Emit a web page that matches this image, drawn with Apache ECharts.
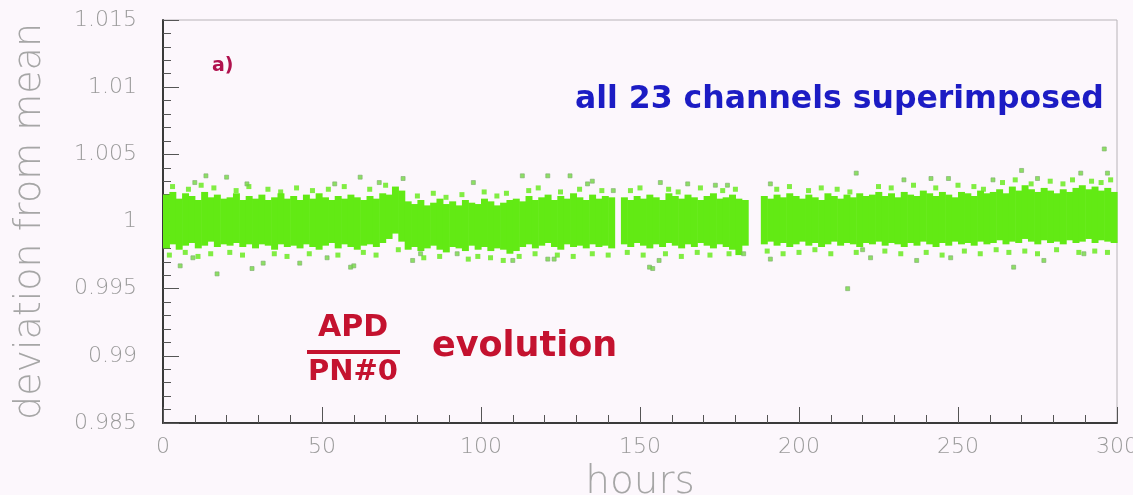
<!DOCTYPE html>
<html>
<head>
<meta charset="utf-8">
<script src="https://cdn.jsdelivr.net/npm/echarts@6/dist/echarts.min.js"></script>
<style>
  html, body { margin: 0; padding: 0; background: #fcf7fc; }
  #chart { width: 1133px; height: 495px; }
</style>
</head>
<body>
<div id="chart"></div>
<script>
// Ratio APD / PN#0 relative to its mean, 23 channels superimposed.
// The dense core of the cloud is given per 2-hour bin (lower / upper edge),
// the sparse points around it are listed individually.
const binHours = 2;

const bandHigh = [
  1.0020,1.0022,1.0017,1.0021,1.0019,1.0016,1.0022,1.0018,1.0020,1.0017,
  1.0018,1.0021,1.0016,1.0019,1.0017,1.0020,1.0016,1.0018,1.0021,1.0017,
  1.0019,1.0016,1.0020,1.0017,1.0021,1.0018,1.0016,1.0019,1.0017,1.0020,1.0018,1.0016,1.0019,1.0017,1.0021,1.0020,
  1.0026,1.0023,
  1.0015,1.0013,1.0016,1.0012,1.0014,1.0017,1.0013,1.0015,1.0012,1.0016,1.0014,1.0013,1.0017,1.0015,1.0012,1.0014,1.0016,
  1.0017,1.0015,1.0019,1.0016,1.0018,1.0020,1.0016,1.0019,1.0017,1.0021,1.0018,1.0016,1.0020,1.0017,1.0019,1.0018,
  null,
  1.0018,1.0016,1.0019,1.0017,1.0020,1.0018,1.0016,1.0021,1.0019,1.0017,1.0020,1.0018,1.0016,1.0019,1.0021,1.0017,1.0018,1.0020,1.0017,1.0016,
  null,null,
  1.0019,1.0017,1.0020,1.0018,1.0021,1.0019,1.0017,1.0020,1.0018,1.0016,1.0021,1.0019,1.0017,1.0020,1.0018,1.0021,1.0019,
  1.0020,1.0022,1.0019,1.0021,1.0018,1.0022,1.0020,1.0019,1.0023,1.0021,1.0019,1.0022,1.0020,1.0018,1.0022,1.0021,1.0019,1.0023,1.0021,
  1.0022,1.0024,1.0021,1.0026,1.0023,1.0027,1.0024,1.0022,1.0025,1.0023,1.0021,1.0024,1.0022,1.0025,1.0027,1.0024,1.0026,1.0023,1.0025,1.0022
];

const bandLow = [
  0.9980,0.9983,0.9979,0.9982,0.9984,0.9980,0.9982,0.9985,0.9981,0.9983,
  0.9982,0.9984,0.9981,0.9983,0.9980,0.9983,0.9982,0.9979,0.9983,0.9981,
  0.9982,0.9980,0.9983,0.9981,0.9979,0.9982,0.9984,0.9980,0.9983,0.9981,0.9979,0.9982,0.9983,0.9981,0.9984,0.9987,
  0.9991,0.9985,
  0.9979,0.9981,0.9978,0.9980,0.9982,0.9979,0.9977,0.9981,0.9980,0.9978,0.9982,0.9979,0.9981,0.9978,0.9980,0.9979,0.9976,
  0.9978,0.9981,0.9983,0.9980,0.9982,0.9984,0.9981,0.9979,0.9983,0.9981,0.9982,0.9980,0.9983,0.9981,0.9982,0.9980,
  null,
  0.9983,0.9981,0.9984,0.9982,0.9980,0.9983,0.9981,0.9984,0.9982,0.9980,0.9983,0.9981,0.9984,0.9982,0.9980,0.9983,0.9981,0.9979,0.9975,0.9982,
  null,null,
  0.9983,0.9985,0.9982,0.9984,0.9981,0.9983,0.9985,0.9982,0.9984,0.9981,0.9983,0.9985,0.9982,0.9984,0.9983,0.9981,0.9984,
  0.9983,0.9985,0.9982,0.9984,0.9983,0.9981,0.9984,0.9982,0.9985,0.9983,0.9981,0.9984,0.9982,0.9985,0.9983,0.9984,0.9982,0.9985,0.9983,
  0.9984,0.9986,0.9983,0.9985,0.9984,0.9987,0.9985,0.9983,0.9986,0.9984,0.9985,0.9983,0.9986,0.9984,0.9985,0.9987,0.9984,0.9986,0.9985,0.9984
];

// Points just outside the dense core: [hour, ratio]
const edgePoints = [
  [3,1.0026],[8,1.0024],[12,1.0027],[16,1.0025],[23,1.0023],[27,1.0026],[33,1.0024],[37,1.0022],[42,1.0025],[47,1.0023],
  [52,1.0024],[57,1.0026],[65,1.0024],[70,1.0027],[80,1.0019],[85,1.0021],[89,1.0018],[94,1.0020],[101,1.0022],[105,1.0019],
  [108,1.0021],[115,1.0023],[118,1.0025],[125,1.0022],[131,1.0024],[138,1.0023],[147,1.0023],[150,1.0025],[159,1.0024],[162,1.0022],
  [169,1.0025],[176,1.0023],[180,1.0024],[193,1.0024],[197,1.0026],[203,1.0023],[207,1.0025],[212,1.0024],[216,1.0022],[225,1.0026],
  [229,1.0025],[236,1.0027],[243,1.0025],[250,1.0027],[255,1.0026],[258,1.0024],[264,1.0029],[268,1.0031],[273,1.0028],[279,1.0030],
  [283,1.0028],[286,1.0031],[292,1.0030],[295,1.0029],[298,1.0031],
  [2,0.9975],[7,0.9977],[11,0.9974],[15,0.9976],[21,0.9977],[25,0.9975],[35,0.9976],[39,0.9974],[46,0.9976],[55,0.9975],
  [63,0.9977],[67,0.9975],[74,0.9979],[82,0.9973],[87,0.9974],[96,0.9972],[99,0.9974],[103,0.9973],[107,0.9971],[112,0.9974],
  [117,0.9976],[124,0.9975],[129,0.9974],[135,0.9976],[140,0.9975],[146,0.9977],[151,0.9975],[158,0.9976],[163,0.9974],[168,0.9977],
  [172,0.9975],[178,0.9976],[190,0.9978],[195,0.9976],[200,0.9977],[205,0.9979],[210,0.9976],[218,0.9977],[227,0.9978],[232,0.9976],
  [240,0.9977],[245,0.9975],[252,0.9978],[257,0.9976],[262,0.9979],[266,0.9977],[271,0.9978],[275,0.9976],[281,0.9979],[288,0.9977],
  [293,0.9978],[297,0.9977]
];

// Isolated points further away from the core: [hour, ratio]
const outlierPoints = [
  [5.4,0.9967],[9.4,0.9973],[10,1.0029],[13.5,1.0034],[17,0.9961],[20,1.0033],[26.4,1.0028],[28,0.9965],[31.5,0.9969],[43,0.9969],
  [51.6,0.9973],[54,1.0028],[59,0.9966],[60,0.9967],[62,1.0033],[68,1.0029],[75.5,1.0032],[78.5,0.9971],[81,0.9976],[92.5,0.9976],
  [97.6,1.0029],[110,0.9971],[113,1.0034],[121,1.0034],[121,0.9972],[123,0.9972],[128,1.0034],[133.5,1.0028],[135,1.0030],[141.6,1.0023],
  [153,0.9966],[154,0.9965],[156,0.9971],[156.4,1.0029],[165,1.0028],[173.7,1.0027],[177.5,1.0027],[182.6,0.9976],[191,1.0028],[191,0.9972],
  [215.3,0.9950],[218,1.0036],[220,0.9979],[222.5,0.9973],[233,1.0031],[237,0.9971],[241.5,1.0032],[247,1.0032],[247.7,0.9973],[261,1.0031],
  [267.5,0.9966],[270,1.0038],[275,1.0032],[277,0.9971],[288.6,1.0036],[289.6,0.9976],[296,1.0054],[297,1.0036]
];

const xTicks = { min: 0, max: 300, step: 50 };
const yTicks = { min: 0.985, max: 1.015, step: 0.005 };

// [binStart, low, high] rows for the custom band series
const bandRows = [];
for (let i = 0; i < bandHigh.length; i++) {
  if (bandHigh[i] == null || bandLow[i] == null) continue;
  bandRows.push([i * binHours, bandLow[i], bandHigh[i]]);
}

const GREEN = '#62ea14';
const AXIS_TEXT = '#9a9a9a';
const NAME_TEXT = '#a6a6a6';
const RED = '#c4122f';

const chart = echarts.init(document.getElementById('chart'), null, { renderer: 'canvas' });

chart.setOption({
  backgroundColor: '#fcf7fc',
  animation: false,
  grid: {
    left: 163, right: 16, top: 20, bottom: 72,
    outerBoundsMode: 'none',
    containLabel: false,
    show: true, borderColor: '#b8b4b8', borderWidth: 1, backgroundColor: 'transparent'
  },
  xAxis: {
    type: 'value',
    min: xTicks.min, max: xTicks.max, interval: xTicks.step,
    name: 'hours',
    nameLocation: 'middle',
    nameGap: 38,
    nameTextStyle: { fontFamily: 'DejaVu Sans', fontWeight: 200, fontSize: 39, color: NAME_TEXT },
    axisLine: { show: true, onZero: false, lineStyle: { color: '#3a3a3a', width: 2 } },
    axisTick: { show: true, inside: true, length: 16, lineStyle: { color: '#555', width: 1 } },
    minorTick: { show: true, splitNumber: 5, length: 8, lineStyle: { color: '#555', width: 1 } },
    splitLine: { show: false },
    axisLabel: {
      margin: 13,
      fontFamily: 'DejaVu Sans', fontWeight: 200, fontSize: 22, color: AXIS_TEXT
    }
  },
  yAxis: {
    type: 'value',
    min: yTicks.min, max: yTicks.max, interval: yTicks.step,
    name: 'deviation from mean',
    nameLocation: 'middle',
    nameRotate: 90,
    nameGap: 114,
    nameTextStyle: { fontFamily: 'DejaVu Sans', fontWeight: 200, fontSize: 38, color: NAME_TEXT },
    axisLine: { show: true, onZero: false, lineStyle: { color: '#3a3a3a', width: 2 } },
    axisTick: { show: true, inside: true, length: 16, lineStyle: { color: '#555', width: 1 } },
    minorTick: { show: true, splitNumber: 5, length: 8, lineStyle: { color: '#555', width: 1 } },
    splitLine: { show: false },
    axisLabel: {
      margin: 26,
      fontFamily: 'DejaVu Sans', fontWeight: 200, fontSize: 22, color: AXIS_TEXT,
      formatter: function (v) { return String(parseFloat(v.toFixed(3))); }
    }
  },
  series: [
    {
      type: 'custom',
      name: 'core',
      data: bandRows,
      renderItem: function (params, api) {
        const x0 = api.value(0);
        const lowPt = api.coord([x0, api.value(1)]);
        const highPt = api.coord([x0 + binHours, api.value(2)]);
        return {
          type: 'rect',
          shape: {
            x: lowPt[0], y: highPt[1],
            width: highPt[0] - lowPt[0] + 0.6,
            height: lowPt[1] - highPt[1]
          },
          style: { fill: GREEN }
        };
      },
      silent: true,
      z: 2
    },
    {
      type: 'scatter',
      name: 'edge',
      data: edgePoints,
      symbol: 'rect',
      symbolSize: 5,
      itemStyle: { color: GREEN },
      silent: true,
      z: 3
    },
    {
      type: 'scatter',
      name: 'outliers',
      data: outlierPoints,
      symbol: 'rect',
      symbolSize: 4,
      itemStyle: { color: '#6fd83c', borderColor: '#7fae70', borderWidth: 0.8 },
      silent: true,
      z: 3
    }
  ],
  graphic: [
    {
      type: 'text', left: 212, top: 57,
      style: { text: 'a)', font: 'bold 19px "DejaVu Sans"', fill: '#b0124e' }
    },
    {
      type: 'text', left: 575, top: 84,
      style: { text: 'all 23 channels superimposed', font: 'bold 31.5px "DejaVu Sans"', fill: '#1c1cc4' }
    },
    {
      type: 'text', left: 318, top: 313,
      style: { text: 'APD', font: 'bold 30px "DejaVu Sans"', fill: RED }
    },
    {
      type: 'rect', shape: { x: 307, y: 350, width: 93, height: 4 },
      style: { fill: RED }
    },
    {
      type: 'text', left: 308, top: 358,
      style: { text: 'PN#0', font: 'bold 29px "DejaVu Sans"', fill: RED }
    },
    {
      type: 'text', left: 432, top: 329,
      style: { text: 'evolution', font: 'bold 35px "DejaVu Sans"', fill: RED }
    }
  ]
});
</script>
</body>
</html>
